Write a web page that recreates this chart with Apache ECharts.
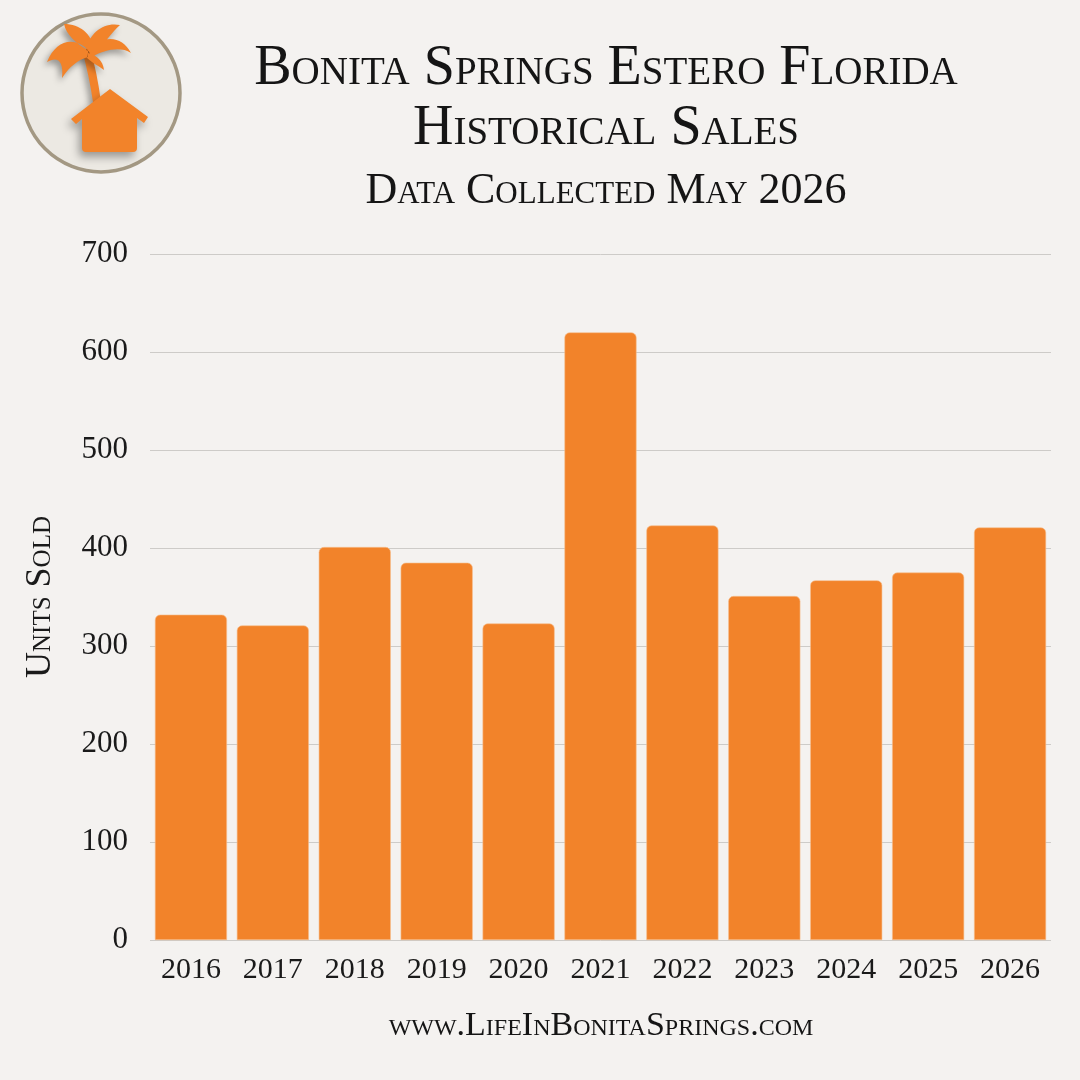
<!DOCTYPE html>
<html>
<head>
<meta charset="utf-8">
<script src="https://cdn.jsdelivr.net/npm/echarts@6/dist/echarts.min.js"></script>
<style>
  html, body { margin: 0; padding: 0; background: #f4f2f0; }
  #main { width: 1080px; height: 1080px; }
</style>
</head>
<body>
<div id="main"></div>
<script>
// data
const years = ['2016', '2017', '2018', '2019', '2020', '2021', '2022', '2023', '2024', '2025', '2026'];
const unitsSold = [332, 321, 401, 385, 323, 620, 423, 351, 367, 375, 421];
const yTicks = [0, 100, 200, 300, 400, 500, 600, 700];

const serif = "'Liberation Serif', 'DejaVu Serif', serif";
const orange = '#f2832a';

// logo shapes (palm + house)
echarts.graphic.registerShape('palmTrunk', echarts.graphic.extendPath(
  'M82,50 Q89,75 93,102 L101,102 Q97,72 90,48 Z'));
echarts.graphic.registerShape('palmFronds', echarts.graphic.extendPath(
  'M88,50 C74,36 56,40 47,62 C57,56 64,60 62,78 C70,66 78,60 88,57 Z ' +
  'M88,50 C76,44 66,34 64,24 C80,24 92,34 93,48 Z ' +
  'M86,50 C90,32 104,22 120,25 C112,32 106,42 94,53 Z ' +
  'M88,50 C104,34 122,36 131,53 C120,46 104,50 92,57 Z ' +
  'M88,53 C97,55 103,61 104,70 C97,65 91,62 87,58 Z'));
echarts.graphic.registerShape('house', echarts.graphic.extendPath(
  'M110,89 L148,117 L144,123 L137,118 L137,148 Q137,152 133,152 L86,152 Q82,152 82,148 L82,119 L76,124 L71,119 Z'));

const chartDom = document.getElementById('main');
const myChart = echarts.init(chartDom);

const logoStyle = { fill: orange, shadowBlur: 6, shadowColor: 'rgba(0,0,0,0.35)', shadowOffsetX: -3, shadowOffsetY: 4 };

const option = {
  backgroundColor: '#f4f2f0',
  title: [
    {
      text: 'Bonita Springs Estero Florida',
      left: 601, top: 36, textAlign: 'center',
      textStyle: { fontFamily: serif, fontStyle: 'small-caps', fontWeight: 'normal', fontSize: 56, color: '#151515' }
    },
    {
      text: 'Historical Sales',
      left: 601, top: 96, textAlign: 'center',
      textStyle: { fontFamily: serif, fontStyle: 'small-caps', fontWeight: 'normal', fontSize: 56, color: '#151515' }
    },
    {
      text: 'Data Collected May 2026',
      left: 601, top: 164, textAlign: 'center',
      textStyle: { fontFamily: serif, fontStyle: 'small-caps', fontWeight: 'normal', fontSize: 44, color: '#151515' }
    }
  ],
  grid: { left: 150, right: 29, top: 254, bottom: 140 },
  xAxis: {
    type: 'category',
    data: years,
    axisLine: { show: false },
    axisTick: { show: false },
    axisLabel: { margin: 15, fontFamily: serif, fontSize: 30, color: '#1a1a1a' }
  },
  yAxis: {
    type: 'value',
    min: yTicks[0],
    max: yTicks[yTicks.length - 1],
    interval: 100,
    name: 'Units Sold',
    nameLocation: 'middle',
    nameGap: 91,
    nameRotate: 90,
    nameTextStyle: { fontFamily: serif, fontStyle: 'small-caps', fontSize: 36, color: '#1a1a1a' },
    axisLabel: { margin: 22, fontFamily: serif, fontSize: 31, color: '#1a1a1a' },
    splitLine: { lineStyle: { color: '#cdcbc8', width: 1 } }
  },
  series: [
    {
      type: 'bar',
      data: unitsSold,
      barCategoryGap: '12%',
      itemStyle: { color: orange, borderRadius: [5, 5, 0, 0], borderColor: '#f6c08f', borderWidth: 0.6 }
    }
  ],
  graphic: [
    {
      type: 'circle', shape: { cx: 101, cy: 93, r: 79 },
      style: { fill: '#ece9e3', stroke: '#a39883', lineWidth: 3.5 }
    },
    { type: 'palmTrunk', style: logoStyle },
    { type: 'palmFronds', style: logoStyle },
    { type: 'house', style: Object.assign({}, logoStyle, { shadowBlur: 8, shadowOffsetY: 5 }) },
    {
      type: 'text',
      x: 601, y: 1026,
      style: {
        text: 'www.LifeInBonitaSprings.com',
        fill: '#151515',
        font: "small-caps normal 34px 'Liberation Serif', serif",
        textAlign: 'center',
        textVerticalAlign: 'middle'
      }
    }
  ]
};

option && myChart.setOption(option);
</script>
</body>
</html>
